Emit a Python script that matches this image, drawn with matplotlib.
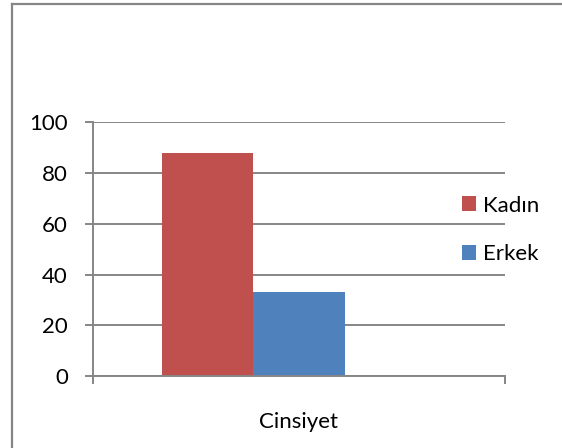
import matplotlib.pyplot as plt
from matplotlib.lines import Line2D

categories = ['Cinsiyet']
series_names = ['Kadın', 'Erkek']
series_values = [88, 33]
series_colors = ['#C0504D', '#4F81BD']
y_ticks = [0, 20, 40, 60, 80, 100]

plt.rcParams['font.family'] = ['Lato', 'DejaVu Sans']
grid_col = '#868686'
fs = 16

W, H = 562, 448
fig = plt.figure(figsize=(W / 100, H / 100), dpi=100)

# outer chart border (only top and left visible in the crop)
fig.add_artist(Line2D([12 / W, 12 / W], [0, 1 - 4.5 / H], color=grid_col, lw=1.6,
                      transform=fig.transFigure))
fig.add_artist(Line2D([12 / W, 1], [1 - 4.5 / H, 1 - 4.5 / H], color=grid_col, lw=1.6,
                      transform=fig.transFigure))

ax = fig.add_axes([93 / W, 1 - 376 / H, (505 - 93) / W, (376 - 122.5) / H])

# Excel style: 3 slots per category (third empty), gap width 150%
bw = 1 / (3 + 1.5)
for i, (name, val, col) in enumerate(zip(series_names, series_values, series_colors)):
    ax.bar(0 + (i - 1) * bw, val, width=bw, color=col, label=name, zorder=2)

ax.set_xlim(-0.5, 0.5)
ax.set_ylim(0, 100)
ax.set_yticks(y_ticks)
ax.set_xticks([-0.5, 0.5])
ax.set_xticklabels(['', ''])
ax.yaxis.grid(True, color=grid_col, lw=1.4, zorder=0)
ax.set_axisbelow(True)
for s in ['top', 'right']:
    ax.spines[s].set_visible(False)
for s in ['left', 'bottom']:
    ax.spines[s].set_color(grid_col)
    ax.spines[s].set_linewidth(1.4)
ax.tick_params(axis='both', colors=grid_col, length=6, width=1.4, direction='out')
ax.tick_params(axis='y', labelcolor='black', labelsize=fs, pad=12)
ax.text(0, -0.183, categories[0], transform=ax.get_xaxis_transform(),
        ha='center', va='center', fontsize=fs)

leg = ax.legend(loc='center left', bbox_to_anchor=(0.847, 0.576), frameon=False,
                fontsize=fs, handlelength=0.63, handleheight=0.63, handletextpad=0.3,
                labelspacing=1.3)

fig.savefig('out.png', dpi=100)
